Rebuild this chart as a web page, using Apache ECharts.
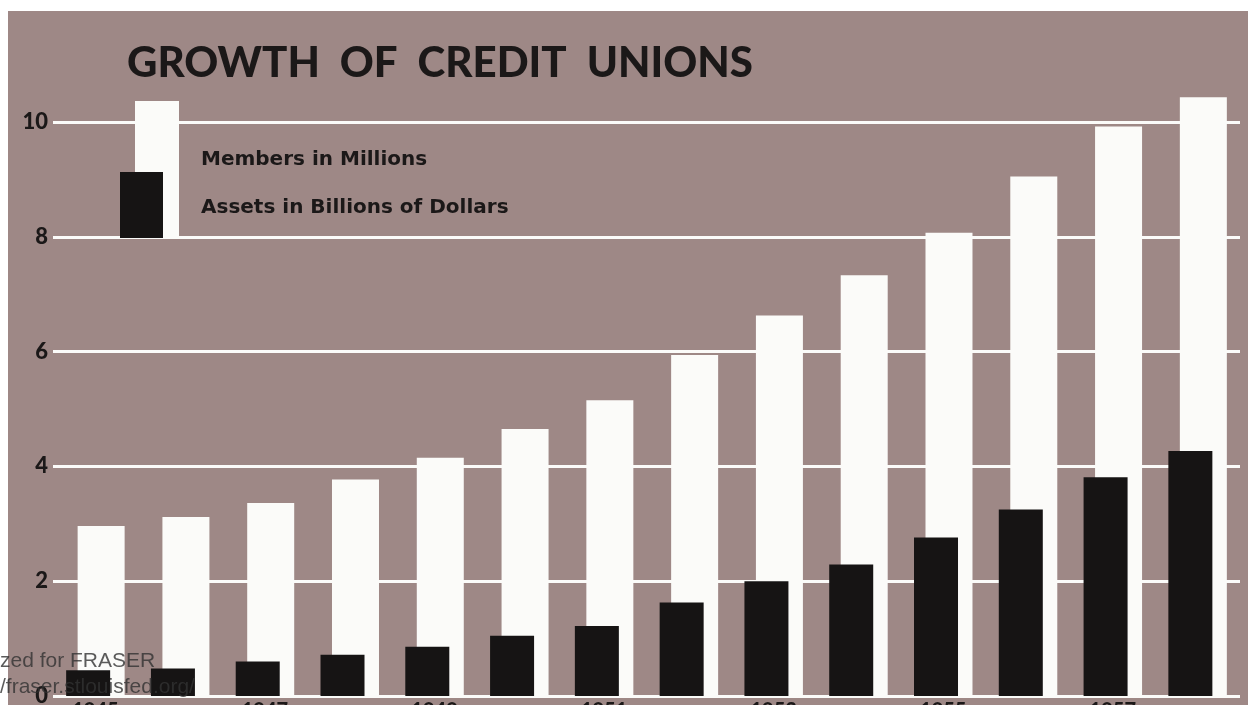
<!DOCTYPE html>
<html>
<head>
<meta charset="utf-8">
<script src="https://cdn.jsdelivr.net/npm/echarts@6/dist/echarts.min.js"></script>
<style>
html,body{margin:0;padding:0;background:#fff;}
#chart{width:1248px;height:705px;}
</style>
</head>
<body>
<div id="chart"></div>
<script>
var years = ['1945','1946','1947','1948','1949','1950','1951','1952','1953','1954','1955','1956','1957','1958'];
var members = [2.96, 3.12, 3.36, 3.77, 4.15, 4.65, 5.15, 5.94, 6.63, 7.33, 8.07, 9.05, 9.92, 10.43];
var assets = [0.45, 0.48, 0.6, 0.72, 0.86, 1.05, 1.22, 1.63, 2.0, 2.29, 2.76, 3.25, 3.81, 4.27];
var yTicks = [0, 2, 4, 6, 8, 10];
var titleText = 'GROWTH  OF  CREDIT  UNIONS';
var legendMembers = 'Members in Millions';
var legendAssets = 'Assets in Billions of Dollars';

var BG = '#9e8886';
var INK = '#1b1818';
var WHITE = '#fbfbf9';

var chart = echarts.init(document.getElementById('chart'), null, {renderer: 'canvas'});
chart.setOption({
  backgroundColor: '#ffffff',
  animation: false,
  title: {
    text: titleText,
    left: 122,
    top: 37,
    textStyle: {fontFamily: 'Lato', fontWeight: 900, fontSize: 42, color: INK}
  },
  grid: {left: 53, right: 8, top: 70.3, bottom: 9, containLabel: false, outerBoundsMode: 'none'},
  xAxis: {
    type: 'category',
    data: years,
    axisLine: {show: false},
    axisTick: {show: false},
    axisLabel: {
      interval: 1,
      margin: 5,
      fontFamily: 'Lato', fontWeight: 900, fontSize: 20, color: INK
    }
  },
  yAxis: {
    type: 'value',
    min: 0,
    max: 10.9,
    interval: 2,
    axisLine: {show: false},
    axisTick: {show: false},
    splitLine: {show: false},
    axisLabel: {
      showMaxLabel: false,
      margin: 5,
      fontFamily: 'Lato', fontWeight: 900, fontSize: 22, color: INK,
      formatter: function (v) { return yTicks.indexOf(v) >= 0 ? String(v) : ''; }
    }
  },
  series: [
    {
      name: legendAssets,
      type: 'bar',
      data: assets,
      barWidth: 44,
      barGap: '-73.9%',
      z: 4,
      itemStyle: {color: '#161414'},
      markLine: {
        z: 1,
        silent: true,
        symbol: ['none', 'none'],
        label: {show: false},
        lineStyle: {color: WHITE, width: 3, type: 'solid'},
        data: yTicks.map(function (t) { return {yAxis: t}; })
      }
    },
    {
      name: legendMembers,
      type: 'bar',
      data: members,
      barWidth: 47,
      z: 3,
      itemStyle: {color: WHITE}
    }
  ],
  graphic: [
    {type: 'rect', z: -10, silent: true, shape: {x: 8, y: 11, width: 1240, height: 694}, style: {fill: BG}},
    {type: 'rect', z: 50, silent: true, shape: {x: 135, y: 101, width: 44, height: 136}, style: {fill: WHITE}},
    {type: 'rect', z: 51, silent: true, shape: {x: 120, y: 172, width: 43, height: 66}, style: {fill: '#161414'}},
    {type: 'text', z: 52, silent: true, left: 201, top: 150, style: {text: legendMembers, fontFamily: 'DejaVu Sans', fontWeight: 'bold', fontSize: 20, fill: INK}},
    {type: 'text', z: 52, silent: true, left: 201, top: 198, style: {text: legendAssets, fontFamily: 'DejaVu Sans', fontWeight: 'bold', fontSize: 20, fill: INK}},
    {type: 'text', z: 60, silent: true, left: 0, top: 651, style: {text: 'zed for FRASER', fontFamily: 'Liberation Sans', fontSize: 21, fill: 'rgba(50,50,50,0.8)'}},
    {type: 'text', z: 60, silent: true, left: 0, top: 677, style: {text: '/fraser.stlouisfed.org/', fontFamily: 'Liberation Sans', fontSize: 21, fill: 'rgba(50,50,50,0.8)'}}
  ]
});
</script>
</body>
</html>
